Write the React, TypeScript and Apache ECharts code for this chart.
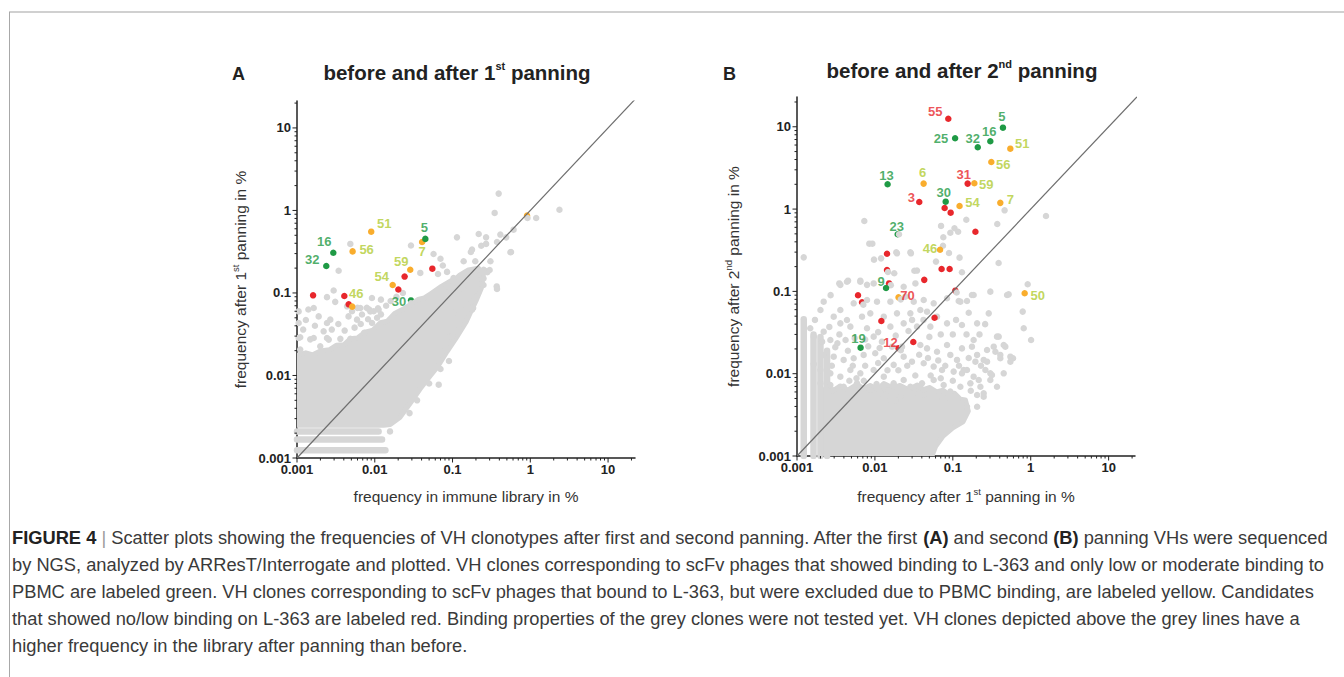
import { useEffect, useRef } from 'react';
import * as echarts from 'echarts';

const FONT = '"Liberation Sans", Arial, Helvetica, sans-serif';
const GREY = '#d6d6d6';
const GREEN = '#1f9a45';
const RED = '#e8272c';
const ORANGE = '#f9ad2d';
const YG = '#b2cc34';
const INK = '#222222';

// ---------- axes ----------
const AXIS_MIN = 0.001;
const A_X_MAX = 22.2;
const A_Y_MAX = 21.2;
const B_X_MAX = 21.8;
const B_Y_MAX = 23.0;
const MAJOR_TICKS = [0.001, 0.01, 0.1, 1, 10];
const MINOR_STEPS = [2, 3, 4, 5, 6, 7, 8, 9];

// ---------- panel A : x = frequency in immune library (%), y = after 1st panning (%) ----------
const A_GREEN = [[0.0447, 0.452, '5'], [0.00293, 0.307, '16'], [0.00238, 0.212, '32']];
const A_GREEN_HIDDEN = [[0.0292, 0.0812, '30']];
const A_ORANGE = [[0.009, 0.553, '51'], [0.0406, 0.415, '7'], [0.00519, 0.319, '56'], [0.0286, 0.191, '59'], [0.017, 0.125, '54'], [0.00513, 0.0683, '46']];
const A_ORANGE_HIDDEN = [[0.908, 0.865, ''], [0.00236, 0.0196, '']];
const A_RED = [[0.0242, 0.158], [0.055, 0.197], [0.0201, 0.11], [0.00161, 0.0936], [0.00406, 0.092], [0.00462, 0.0728]];
const A_RED_HIDDEN = [[0.063, 0.0597], [0.00327, 0.0184], [0.00199, 0.0141]];

const A_GREY = [
  [0.392, 1.6], [2.37, 1.02], [0.348, 0.933], [1.19, 0.81], [0.92, 0.81], [0.61, 0.585], [0.217, 0.519],
  [0.27, 0.472], [0.412, 0.51], [0.49, 0.472], [0.114, 0.472], [0.373, 0.415], [0.234, 0.374], [0.27, 0.393],
  [0.178, 0.335], [0.172, 0.314], [0.0292, 0.376], [0.00485, 0.393], [0.057, 0.297], [0.565, 0.314],
  [0.00343, 0.186], [0.0385, 0.175], [0.07, 0.26], [0.075, 0.215], [0.085, 0.18], [0.065, 0.17], [0.15, 0.145],
  [0.25, 0.125], [0.37, 0.12], [0.178, 0.0795], [0.00296, 0.107], [0.00243, 0.089], [0.0031, 0.078],
  [0.0092, 0.087], [0.0014, 0.063], [0.006, 0.066], [0.0085, 0.063], [0.011, 0.065],
  [0.00105, 0.0433], [0.00105, 0.0285], [0.00148, 0.0274], [0.0022, 0.0343], [0.00243, 0.0285], [0.00199, 0.0226],
  [0.0044, 0.0689], [0.0051, 0.06], [0.00653, 0.0658], [0.0079, 0.066], [0.0097, 0.06], [0.0107, 0.05],
  [0.0664, 0.00774], [0.0938, 0.0299], [0.178, 0.0628], [0.373, 0.112], [0.555, 0.311], [0.26, 0.186],
  [0.28, 0.178], [0.23, 0.165], [0.184, 0.0658], [0.126, 0.0658], [0.103, 0.057],
  [0.00105, 0.0598], [0.0011, 0.0291], [0.0011, 0.0206], [0.00116, 0.0156], [0.00164, 0.0285], [0.00256, 0.0272],
  [0.00243, 0.0433], [0.00164, 0.0658], [0.00268, 0.0475], [0.00361, 0.0278], [0.00485, 0.0278], [0.00591, 0.0475],
  [0.00685, 0.0548], [0.00877, 0.0598], [0.0112, 0.0628], [0.00923, 0.0433], [0.0157, 0.0021], [0.0292, 0.075],
  [0.139, 0.242], [0.196, 0.242], [0.307, 0.242], [0.251, 0.191], [0.153, 0.167], [0.103, 0.152],
  [0.085, 0.12], [0.11, 0.115], [0.14, 0.11],
  [0.0012, 0.036], [0.0013, 0.047], [0.0017, 0.04], [0.0019, 0.052], [0.0028, 0.036], [0.0034, 0.042],
  [0.0041, 0.035], [0.0046, 0.052], [0.0055, 0.038], [0.0066, 0.042], [0.0073, 0.033], [0.0082, 0.048],
  [0.012, 0.055], [0.014, 0.07], [0.016, 0.08], [0.019, 0.09], [0.023, 0.1], [0.012, 0.083],
  [0.1, 0.03], [0.13, 0.05], [0.07, 0.012], [0.05, 0.008], [0.08, 0.02], [0.035, 0.005], [0.028, 0.0035],
  [0.16, 0.1], [0.2, 0.09], [0.25, 0.15], [0.3, 0.19], [0.12, 0.04], [0.09, 0.015],
];
// dense core of the cloud (outline of overlapping dots)
const A_CLOUD = [
  [0.001, 0.0025], [0.001, 0.0175], [0.0013, 0.0188], [0.0016, 0.0178], [0.002, 0.0198], [0.0026, 0.0205],
  [0.0032, 0.0232], [0.004, 0.0235], [0.00485, 0.0278], [0.006, 0.0285], [0.0075, 0.0335], [0.0095, 0.0355],
  [0.0118, 0.0435], [0.0145, 0.0455], [0.018, 0.0565], [0.0247, 0.066], [0.03, 0.0735], [0.036, 0.0835],
  [0.0435, 0.087], [0.0518, 0.097], [0.072, 0.12], [0.0937, 0.139], [0.11, 0.148], [0.125, 0.166],
  [0.16, 0.19], [0.215, 0.2], [0.25, 0.17],
  [0.235, 0.115], [0.2, 0.08], [0.17, 0.058], [0.15, 0.045], [0.11, 0.028], [0.085, 0.0195], [0.065, 0.013],
  [0.05, 0.0095], [0.038, 0.0068], [0.029, 0.0047], [0.021, 0.0031], [0.0158, 0.00255], [0.013, 0.0025],
];
// rows of clones with 1, 2 and 3 reads after panning: [y, last x]
const A_STRIPES = [[0.00124, 0.0137], [0.00167, 0.0124], [0.0021, 0.0112]];

// ---------- panel B : x = after 1st panning (%), y = after 2nd panning (%) ----------
const B_GREEN = [[0.44, 9.75, '5'], [0.107, 7.25, '25'], [0.303, 6.66, '16'], [0.209, 5.64, '32'], [0.01455, 2.0, '13'], [0.081, 1.23, '30'], [0.0139, 0.11, '9'], [0.00655, 0.0207, '19']];
const B_GREEN_HIDDEN = [[0.0196, 0.494, '23']];
const B_ORANGE = [[0.547, 5.42, '51'], [0.312, 3.73, '56'], [0.0422, 2.04, '6'], [0.189, 2.06, '59'], [0.122, 1.09, '54'], [0.407, 1.19, '7'], [0.0686, 0.321, '46'], [0.836, 0.0949, '50']];
const B_ORANGE_HIDDEN = [[0.0201, 0.0847, '70']];
const B_RED = [[0.0875, 12.5, '55'], [0.155, 2.04, '31'], [0.0371, 1.22, '3'], [0.0785, 1.03, ''], [0.0938, 0.904, ''], [0.195, 0.531, ''], [0.0143, 0.287, ''], [0.0718, 0.187, ''], [0.091, 0.187, ''], [0.043, 0.138, ''], [0.00607, 0.0897, ''], [0.0121, 0.0437, ''], [0.0583, 0.0478, ''], [0.0311, 0.0243, '']];
const B_RED_HIDDEN = [[0.0201, 0.0204, '12'], [0.0143, 0.182, ''], [0.0152, 0.125, ''], [0.1076, 0.102, ''], [0.00683, 0.0738, ''], [0.0177, 0.00497, ''], [0.0233, 0.00211, '']];

const B_GREY = [
  [0.00731, 0.716], [0.00847, 0.38], [0.00927, 0.38], [0.00122, 0.259], [0.00973, 0.243], [0.012, 0.252],
  [0.0188, 0.299], [0.0285, 0.299], [0.0204, 0.494], [0.0706, 0.624], [0.0755, 0.454], [0.0929, 0.516],
  [0.105, 0.585], [0.117, 0.531], [0.149, 0.743], [0.0748, 0.359], [0.0893, 0.293], [0.0608, 0.23],
  [0.122, 0.257], [0.131, 0.171], [0.0321, 0.178], [0.0177, 0.166], [0.372, 0.659], [0.462, 0.966],
  [0.387, 0.221], [1.57, 0.824], [0.0192, 0.29], [0.029, 0.29], [0.00349, 0.125], [0.00452, 0.135],
  [0.0065, 0.135], [0.0347, 0.179],
  [0.119, 0.0764], [0.152, 0.0764], [0.185, 0.0904], [0.521, 0.092], [0.914, 0.122], [0.789, 0.0568],
  [0.813, 0.0356], [1.01, 0.0257], [0.388, 0.0282], [0.472, 0.0213], [0.407, 0.0169], [0.352, 0.0185],
  [0.548, 0.0161], [0.593, 0.0154], [0.275, 0.0194], [0.249, 0.0147], [0.205, 0.0169], [0.185, 0.0257],
  [0.152, 0.0111], [0.131, 0.0101], [0.303, 0.0101], [0.249, 0.00577], [0.215, 0.00838],
  [0.0036, 0.12], [0.00438, 0.131], [0.0065, 0.131], [0.00792, 0.12], [0.00964, 0.125], [0.0234, 0.114], [0.0331, 0.125],
  [0.0022, 0.075], [0.0036, 0.0594], [0.00534, 0.0716], [0.00792, 0.0786], [0.01064, 0.075], [0.0158, 0.075],
  [0.0246, 0.0863], [0.0315, 0.075], [0.0423, 0.0786], [0.0568, 0.0716], [0.0843, 0.0824], [0.125, 0.075],
  [0.176, 0.0904], [0.303, 0.0993], [0.497, 0.0904],
  [0.002, 0.0594], [0.00296, 0.0493], [0.00438, 0.0449], [0.00683, 0.0493], [0.00873, 0.0541], [0.013, 0.0493],
  [0.0192, 0.0541], [0.0285, 0.0541], [0.0383, 0.0594], [0.0467, 0.0567], [0.0627, 0.0493], [0.289, 0.0541],
  [0.00148, 0.0356], [0.0022, 0.0324], [0.0036, 0.0409], [0.00484, 0.0373], [0.00792, 0.0356], [0.0158, 0.0373],
  [0.0234, 0.0409], [0.0347, 0.0373], [0.0515, 0.0373], [0.0843, 0.0409], [0.131, 0.0391], [0.205, 0.0409],
  [0.00164, 0.0282], [0.0021, 0.0245], [0.00268, 0.0257], [0.0033, 0.0234], [0.0042, 0.0257], [0.00964, 0.0282],
  [0.0123, 0.0245], [0.0166, 0.0213], [0.0223, 0.0213], [0.0383, 0.0223], [0.0467, 0.0203], [0.0627, 0.0185],
  [0.0843, 0.0223], [0.131, 0.0203], [0.176, 0.0213], [0.335, 0.0213], [0.369, 0.0282], [0.45, 0.0223],
  [0.0022, 0.0169], [0.00296, 0.0161], [0.00397, 0.0147], [0.00534, 0.0154], [0.00717, 0.0169], [0.0101, 0.0177],
  [0.013, 0.0154], [0.0174, 0.0128], [0.0234, 0.0161], [0.0299, 0.014], [0.0423, 0.0134], [0.0568, 0.0122],
  [0.0929, 0.0169], [0.1132, 0.0147], [0.195, 0.014], [0.275, 0.014], [0.407, 0.0154], [0.548, 0.014],
  [0.00164, 0.0131], [0.002, 0.0111], [0.00268, 0.0101], [0.0036, 0.0092], [0.00484, 0.0111], [0.0065, 0.0101],
  [0.00964, 0.0111], [0.013, 0.0092], [0.0174, 0.00764], [0.0234, 0.00838], [0.0285, 0.00695], [0.0402, 0.00764],
  [0.0568, 0.00838], [0.0727, 0.0111], [0.1025, 0.0106], [0.138, 0.0111], [0.185, 0.0092], [0.262, 0.0111],
  [0.318, 0.00964], [0.45, 0.0101],
  [0.0763, 0.00729], [0.0929, 0.00605], [0.125, 0.00695], [0.168, 0.00764], [0.226, 0.00695], [0.303, 0.00838],
  [0.369, 0.00695], [0.205, 0.00551], [0.249, 0.00526], [0.152, 0.00397], [0.205, 0.00397], [0.1132, 0.00479],
  [0.0843, 0.00436],
  [0.002, 0.00764], [0.00268, 0.00729], [0.00397, 0.00695], [0.00589, 0.00764], [0.00873, 0.00634], [0.0117, 0.00577],
  [0.0158, 0.00479], [0.0212, 0.00526], [0.0315, 0.00577], [0.0423, 0.00551], [0.0627, 0.00526],
  [0.0215, 0.0193], [0.0215, 0.08], [0.0147, 0.172], [0.016, 0.119], [0.112, 0.097], [0.0071, 0.069], [0.0183, 0.0047],
  [0.0028, 0.0125], [0.0031, 0.021], [0.0045, 0.019], [0.0052, 0.0125], [0.0058, 0.0088], [0.0075, 0.0125],
  [0.0082, 0.0215], [0.011, 0.0135], [0.0115, 0.0205], [0.0145, 0.011], [0.0029, 0.0063], [0.0047, 0.0082],
  [0.0072, 0.0082], [0.0105, 0.0075], [0.015, 0.0062], [0.02, 0.011], [0.026, 0.0125], [0.033, 0.0095],
  [0.037, 0.017], [0.048, 0.0155], [0.052, 0.0095], [0.065, 0.0145], [0.07, 0.0088], [0.08, 0.0125],
  [0.1, 0.0082], [0.12, 0.0125], [0.16, 0.0155], [0.17, 0.0062], [0.23, 0.0125], [0.0035, 0.03],
  [0.0055, 0.027], [0.0075, 0.026], [0.011, 0.032], [0.0185, 0.029], [0.027, 0.033], [0.03, 0.045],
  [0.042, 0.045], [0.05, 0.028], [0.07, 0.03], [0.1, 0.03], [0.11, 0.045], [0.15, 0.03], [0.16, 0.055],
  [0.22, 0.03], [0.26, 0.04], [0.0026, 0.037], [0.0027, 0.09], [0.0017, 0.045],
];
const B_CLOUD = [
  [0.002, 0.001], [0.002, 0.0056], [0.0024, 0.0068], [0.0029, 0.0062], [0.0036, 0.0071], [0.0045, 0.0063],
  [0.0059, 0.0074], [0.0072, 0.0066], [0.0087, 0.0072], [0.011, 0.0065], [0.013, 0.0076], [0.017, 0.0067],
  [0.021, 0.0072], [0.027, 0.0064], [0.035, 0.0073], [0.042, 0.0064], [0.05, 0.0068], [0.062, 0.006],
  [0.075, 0.0063], [0.09, 0.0055], [0.105, 0.0058], [0.125, 0.0049], [0.145, 0.0048], [0.158, 0.0035],
  [0.135, 0.0026], [0.1, 0.0022], [0.075, 0.00175], [0.06, 0.0013], [0.054, 0.001],
];
// columns of clones with 1..4 reads after the 1st panning: [x, top y]
const B_COLUMNS = [[0.00122, 0.046], [0.00163, 0.03], [0.002, 0.028], [0.00243, 0.019]];

// ---------- label placement (px offsets from the dot) ----------
const A_LABEL_OFFSET: Record<string, number[]> = {
  '5': [-1, -11], '16': [-9, -11], '32': [-14, -7], '30': [-12, 1], '51': [13, -8], '7': [0, 10],
  '56': [14, -2], '59': [-9, -8], '54': [-11, -8], '46': [4, -13],
};
const B_LABEL_OFFSET: Record<string, number[]> = {
  '55': [-13, -7], '5': [-1, -11], '25': [-14, 0], '16': [-1, -10], '32': [-5, -9], '51': [12, -5],
  '56': [12, 2], '13': [-1, -9], '6': [-1, -11], '31': [-4, -9], '59': [12, 1], '3': [-8, -4],
  '30': [-2, -9], '54': [13, -3], '7': [10, -3], '23': [-1, -8], '46': [-10, -1], '9': [-5, -6],
  '70': [9, -2], '50': [13, 2], '19': [-2, -9], '12': [-8, -6],
};
const LABEL_COLOR_OVERRIDE: Record<string, string> = { '70': RED };

const CAPTION = [
  '{b|FIGURE 4} {sep||} Scatter plots showing the frequencies of VH clonotypes after first and second panning. After the first {b|(A)} and second {b|(B)} panning VHs were sequenced',
  'by NGS, analyzed by ARResT/Interrogate and plotted. VH clones corresponding to scFv phages that showed binding to L-363 and only low or moderate binding to',
  'PBMC are labeled green. VH clones corresponding to scFv phages that bound to L-363, but were excluded due to PBMC binding, are labeled yellow. Candidates',
  'that showed no/low binding on L-363 are labeled red. Binding properties of the grey clones were not tested yet. VH clones depicted above the grey lines have a',
  'higher frequency in the library after panning than before.',
];

const fmtTick = (v: number) => String(Number(v.toPrecision(3)));

function axisBase(gi: number, max: number, name: string, isY: boolean, nameGap: number) {
  return {
    type: 'log',
    logBase: 10,
    gridIndex: gi,
    min: AXIS_MIN,
    max,
    axisLine: { show: true, onZero: false, lineStyle: { color: INK, width: 1.5 } },
    axisTick: { show: false },
    minorTick: { show: false },
    splitLine: { show: false },
    minorSplitLine: { show: false },
    axisLabel: {
      show: true, margin: isY ? 6 : 5, fontSize: 13, fontWeight: 'bold', color: INK, fontFamily: FONT,
      formatter: fmtTick, showMaxLabel: false, showMinLabel: true,
    },
    name,
    nameLocation: 'middle',
    nameGap,
    nameTextStyle: {
      fontSize: 15.5, color: '#333', fontFamily: FONT,
      rich: { sup: { fontSize: 9.5, color: '#333', fontFamily: FONT, padding: [0, 0, 10, 0] } },
    },
  };
}

function tickSeries(gi: number, xMax: number, yMax: number) {
  const ticks: { axis: string; v: number; len: number }[] = [];
  MAJOR_TICKS.forEach((t) => {
    ticks.push({ axis: 'x', v: t, len: 4.5 });
    ticks.push({ axis: 'y', v: t, len: 4.5 });
    MINOR_STEPS.forEach((m) => {
      const v = t * m;
      if (v < xMax) ticks.push({ axis: 'x', v, len: 2.5 });
      if (v < yMax) ticks.push({ axis: 'y', v, len: 2.5 });
    });
  });
  return {
    type: 'custom',
    xAxisIndex: gi,
    yAxisIndex: gi,
    silent: true,
    clip: false,
    z: 6,
    data: ticks.map((t) => (t.axis === 'x' ? [t.v, AXIS_MIN] : [AXIS_MIN, t.v])),
    encode: { x: 0, y: 1 },
    renderItem: (params: any, api: any) => {
      const t = ticks[params.dataIndex];
      const p = api.coord([api.value(0), api.value(1)]);
      const shape = t.axis === 'x'
        ? { x1: p[0], y1: p[1], x2: p[0], y2: p[1] + t.len }
        : { x1: p[0] - t.len, y1: p[1], x2: p[0], y2: p[1] };
      return { type: 'line', shape, style: { stroke: INK, lineWidth: 1 } };
    },
  };
}

function cloudSeries(gi: number, poly: number[][]) {
  return {
    type: 'custom',
    xAxisIndex: gi,
    yAxisIndex: gi,
    silent: true,
    clip: true,
    z: 2,
    data: poly,
    encode: { x: 0, y: 1 },
    renderItem: (params: any, api: any) => {
      if (params.dataIndex !== 0) return null;
      const pts = poly.map((p) => api.coord(p));
      return {
        type: 'polygon',
        shape: { points: pts },
        style: { fill: GREY, stroke: GREY, lineWidth: 5, lineJoin: 'round' },
      };
    },
  };
}

function dots(gi: number, data: any[], color: string, z: number, size = 6.5) {
  return {
    type: 'scatter',
    xAxisIndex: gi,
    yAxisIndex: gi,
    symbol: 'circle',
    symbolSize: size,
    silent: true,
    clip: true,
    z,
    itemStyle: { color, opacity: 1 },
    data: data.map((d) => [d[0], d[1]]),
  };
}

function labelSeries(gi: number, data: any[], color: string, offsets: Record<string, number[]>) {
  return {
    type: 'scatter',
    xAxisIndex: gi,
    yAxisIndex: gi,
    symbolSize: 1,
    silent: true,
    clip: false,
    z: 10,
    itemStyle: { color: 'rgba(0,0,0,0)' },
    label: {
      show: true, position: 'inside', fontSize: 13, fontWeight: 'bold', fontFamily: FONT,
      color, textBorderWidth: 0, align: 'center', verticalAlign: 'middle',
    },
    data: data.filter((d) => d[2]).map((d) => ({
      value: [d[0], d[1]],
      label: {
        formatter: d[2],
        offset: offsets[d[2]] || [0, -10],
        color: LABEL_COLOR_OVERRIDE[d[2]] || color,
      },
    })),
  };
}

function lineSeg(gi: number, a: number[], b: number[], color: string, width: number, z: number, cap = 'round') {
  return {
    type: 'line',
    xAxisIndex: gi,
    yAxisIndex: gi,
    data: [a, b],
    symbol: 'none',
    silent: true,
    clip: true,
    z,
    lineStyle: { color, width, cap },
  };
}

function buildOption() {
  const supRich = { fontSize: 11, fontWeight: 'bold', color: INK, fontFamily: FONT, padding: [0, 0, 13, 0] };
  const series: any[] = [
    // panel A
    dots(0, A_RED_HIDDEN, RED, 1), dots(0, A_ORANGE_HIDDEN, ORANGE, 1), dots(0, A_GREEN_HIDDEN, GREEN, 1),
    cloudSeries(0, A_CLOUD),
    ...A_STRIPES.map((s) => lineSeg(0, [AXIS_MIN, s[0]], [s[1], s[0]], GREY, 6.5, 2)),
    dots(0, A_GREY, GREY, 3),
    lineSeg(0, [AXIS_MIN, AXIS_MIN], [30, 30], '#6e6e6e', 1.2, 4, 'butt'),
    dots(0, A_RED, RED, 5), dots(0, A_ORANGE, ORANGE, 5), dots(0, A_GREEN, GREEN, 5),
    labelSeries(0, [...A_GREEN, ...A_GREEN_HIDDEN], GREEN, A_LABEL_OFFSET),
    labelSeries(0, [...A_ORANGE, ...A_ORANGE_HIDDEN], YG, A_LABEL_OFFSET),
    tickSeries(0, A_X_MAX, A_Y_MAX),
    // panel B
    dots(1, B_RED_HIDDEN, RED, 1), dots(1, B_ORANGE_HIDDEN, ORANGE, 1), dots(1, B_GREEN_HIDDEN, GREEN, 1),
    cloudSeries(1, B_CLOUD),
    ...B_COLUMNS.map((c) => lineSeg(1, [c[0], AXIS_MIN], [c[0], c[1]], GREY, 6.5, 2)),
    dots(1, B_GREY, GREY, 3),
    lineSeg(1, [AXIS_MIN, AXIS_MIN], [30, 30], '#6e6e6e', 1.2, 4, 'butt'),
    dots(1, B_RED, RED, 5), dots(1, B_ORANGE, ORANGE, 5), dots(1, B_GREEN, GREEN, 5),
    labelSeries(1, [...B_GREEN, ...B_GREEN_HIDDEN], GREEN, B_LABEL_OFFSET),
    labelSeries(1, [...B_ORANGE, ...B_ORANGE_HIDDEN], YG, B_LABEL_OFFSET),
    labelSeries(1, [...B_RED, ...B_RED_HIDDEN], RED, B_LABEL_OFFSET),
    tickSeries(1, B_X_MAX, B_Y_MAX),
  ];

  const titleBase = { padding: 0, textVerticalAlign: 'middle' };
  const titles: any[] = [
    { ...titleBase, text: 'A', left: 232, top: 74, textAlign: 'left', textStyle: { fontSize: 18, fontWeight: 'bold', color: INK, fontFamily: FONT } },
    { ...titleBase, text: 'B', left: 723, top: 74, textAlign: 'left', textStyle: { fontSize: 18, fontWeight: 'bold', color: INK, fontFamily: FONT } },
    { ...titleBase, text: 'before and after 1{sup|st} panning', left: 457, top: 72, textAlign: 'center', textStyle: { fontSize: 20.5, fontWeight: 'bold', color: INK, fontFamily: FONT, rich: { sup: supRich } } },
    { ...titleBase, text: 'before and after 2{sup|nd} panning', left: 962, top: 70, textAlign: 'center', textStyle: { fontSize: 20.5, fontWeight: 'bold', color: INK, fontFamily: FONT, rich: { sup: supRich } } },
    ...CAPTION.map((line, i) => ({
      ...titleBase,
      text: line,
      left: 12,
      top: 537 + i * 27,
      textAlign: 'left',
      textStyle: {
        fontSize: 18.3, fontWeight: 'normal', color: '#3a3a3a', fontFamily: FONT,
        rich: {
          b: { fontSize: 18.3, fontWeight: 'bold', color: '#222', fontFamily: FONT },
          sep: { fontSize: 18.3, fontWeight: 'normal', color: '#9a9a9a', fontFamily: FONT },
        },
      },
    })),
  ];

  return {
    animation: false,
    backgroundColor: '#ffffff',
    title: titles,
    grid: [
      { left: 297, top: 101, width: 338, height: 357, containLabel: false },
      { left: 797, top: 97, width: 338, height: 359, containLabel: false },
    ],
    xAxis: [
      axisBase(0, A_X_MAX, 'frequency in immune library in %', false, 30),
      axisBase(1, B_X_MAX, 'frequency after 1{sup|st} panning in %', false, 30),
    ],
    yAxis: [
      axisBase(0, A_Y_MAX, 'frequency after 1{sup|st} panning in %', true, 47),
      axisBase(1, B_Y_MAX, 'frequency after 2{sup|nd} panning in %', true, 54),
    ],
    graphic: [
      { type: 'line', silent: true, shape: { x1: 9, y1: 12, x2: 1344, y2: 12 }, style: { stroke: '#d0d0d0', lineWidth: 2 } },
      { type: 'line', silent: true, shape: { x1: 9.5, y1: 12, x2: 9.5, y2: 677 }, style: { stroke: '#a8a8a8', lineWidth: 1 } },
    ],
    series,
  };
}

export default function App() {
  const ref = useRef<HTMLDivElement>(null);
  useEffect(() => {
    if (!ref.current) return;
    const chart = echarts.init(ref.current, null, { renderer: 'svg' });
    chart.setOption(buildOption() as any);
    return () => chart.dispose();
  }, []);
  return (
    <div
      ref={ref}
      style={{ position: 'fixed', left: 0, top: 0, width: 1344, height: 677, background: '#fff' }}
    />
  );
}
